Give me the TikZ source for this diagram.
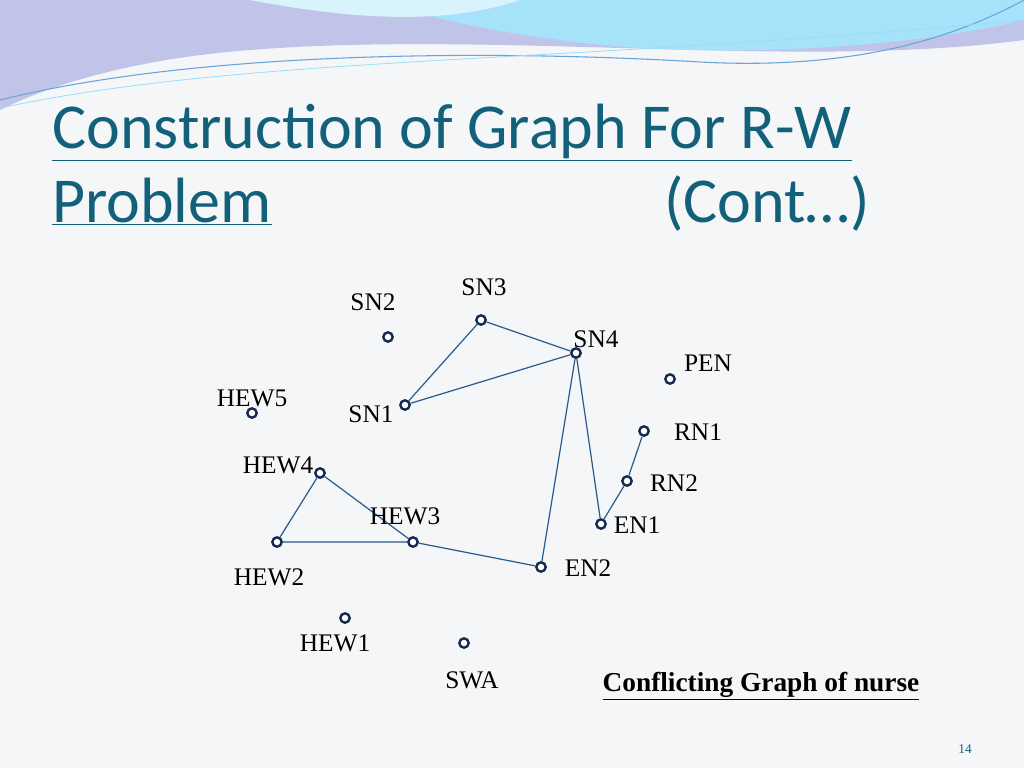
\documentclass[tikz,border=0pt]{standalone}
\usepackage{fontspec}
\setmainfont{Liberation Serif}
\newfontfamily\titlefont{Carlito}
\definecolor{teal}{RGB}{18,96,122}
\definecolor{navy}{RGB}{20,40,80}
\definecolor{edge}{RGB}{40,90,140}
\definecolor{bg}{RGB}{244,246,248}
\newcommand{\ttul}[1]{\underline{#1}}
\begin{document}
\begin{tikzpicture}[x=0.75pt,y=-0.75pt,
  vtx/.style={circle,draw=navy,line width=1.8pt,fill=white,inner sep=0pt,minimum size=7pt},
  lab/.style={font=\fontsize{19}{19}\selectfont,text=black},
  conn/.style={draw=edge,line width=0.9pt},
  ttl/.style={anchor=base west,inner sep=0pt,text=teal,font=\titlefont\fontsize{48}{48}\selectfont}]
\useasboundingbox (0,0) rectangle (1024,768);
\fill[bg] (0,0) rectangle (1024,768);
% top waves
\fill[cyan!30!blue!25] (0,0) -- (1024,0) -- (1024,40) .. controls (800,70) and (500,30) .. (250,50) .. controls (120,60) and (40,90) .. (0,110) -- cycle;
\fill[cyan!35!white] (380,0) -- (1024,0) -- (1024,20) .. controls (900,50) and (700,60) .. (560,40) .. controls (480,30) and (420,15) .. (380,0) -- cycle;
\fill[cyan!15!white] (250,0) -- (520,0) .. controls (460,20) and (380,25) .. (250,0) -- cycle;
\draw[cyan!60!blue!60,line width=0.8pt] (0,100) .. controls (200,50) and (500,50) .. (700,62) .. controls (850,70) and (950,40) .. (1024,0);
\draw[cyan!40,line width=0.6pt] (0,108) .. controls (250,55) and (550,65) .. (1024,20);
% title
\node[ttl] (t1) at (52,148) {\ttul{Construction of Graph For R-W}};
\node[ttl] (t2) at (52,222) {\ttul{Problem}};
\node[ttl] (t3) at (664,222) {(Cont…)};
% vertices
\node[vtx] (SN2) at (388,337) {};
\node[vtx] (SN3) at (481,320) {};
\node[vtx] (SN4) at (576,353) {};
\node[vtx] (PEN) at (670,379) {};
\node[vtx] (HEW5) at (252,413) {};
\node[vtx] (SN1) at (405,405) {};
\node[vtx] (RN1) at (644,431) {};
\node[vtx] (HEW4) at (320,473) {};
\node[vtx] (RN2) at (627,481) {};
\node[vtx] (EN1) at (601,524) {};
\node[vtx] (HEW3) at (413,542) {};
\node[vtx] (HEW2) at (277,542) {};
\node[vtx] (EN2) at (541,567) {};
\node[vtx] (HEW1) at (345,618) {};
\node[vtx] (SWA) at (464,643) {};
% edges
\draw[conn] (SN1)--(SN3) (SN3)--(SN4) (SN1)--(SN4) (SN4)--(EN1) (SN4)--(EN2)
 (RN1)--(RN2) (RN2)--(EN1) (EN2)--(HEW3) (HEW3)--(HEW4) (HEW4)--(HEW2) (HEW2)--(HEW3);
% labels
\node[lab] (lSN3) at (484,287) {SN3};
\node[lab] (lSN2) at (373,302) {SN2};
\node[lab] (lSN4) at (596,339) {SN4};
\node[lab] (lPEN) at (708,363) {PEN};
\node[lab] (lHEW5) at (252,398) {HEW5};
\node[lab] (lSN1) at (371,414) {SN1};
\node[lab] (lRN1) at (698,432) {RN1};
\node[lab] (lHEW4) at (278,465) {HEW4};
\node[lab] (lRN2) at (674,483) {RN2};
\node[lab] (lHEW3) at (405,516) {HEW3};
\node[lab] (lEN1) at (637,525) {EN1};
\node[lab] (lEN2) at (588,568) {EN2};
\node[lab] (lHEW2) at (269,577) {HEW2};
\node[lab] (lHEW1) at (335,643) {HEW1};
\node[lab] (lSWA) at (472,680) {SWA};
\node[font=\bfseries\fontsize{20.5}{20.5}\selectfont] (cap) at (761,686) {\underline{Conflicting Graph of nurse}};
\node[font=\fontsize{10}{10}\selectfont,text=teal] (pg) at (965,749) {14};
\end{tikzpicture}
\end{document}
